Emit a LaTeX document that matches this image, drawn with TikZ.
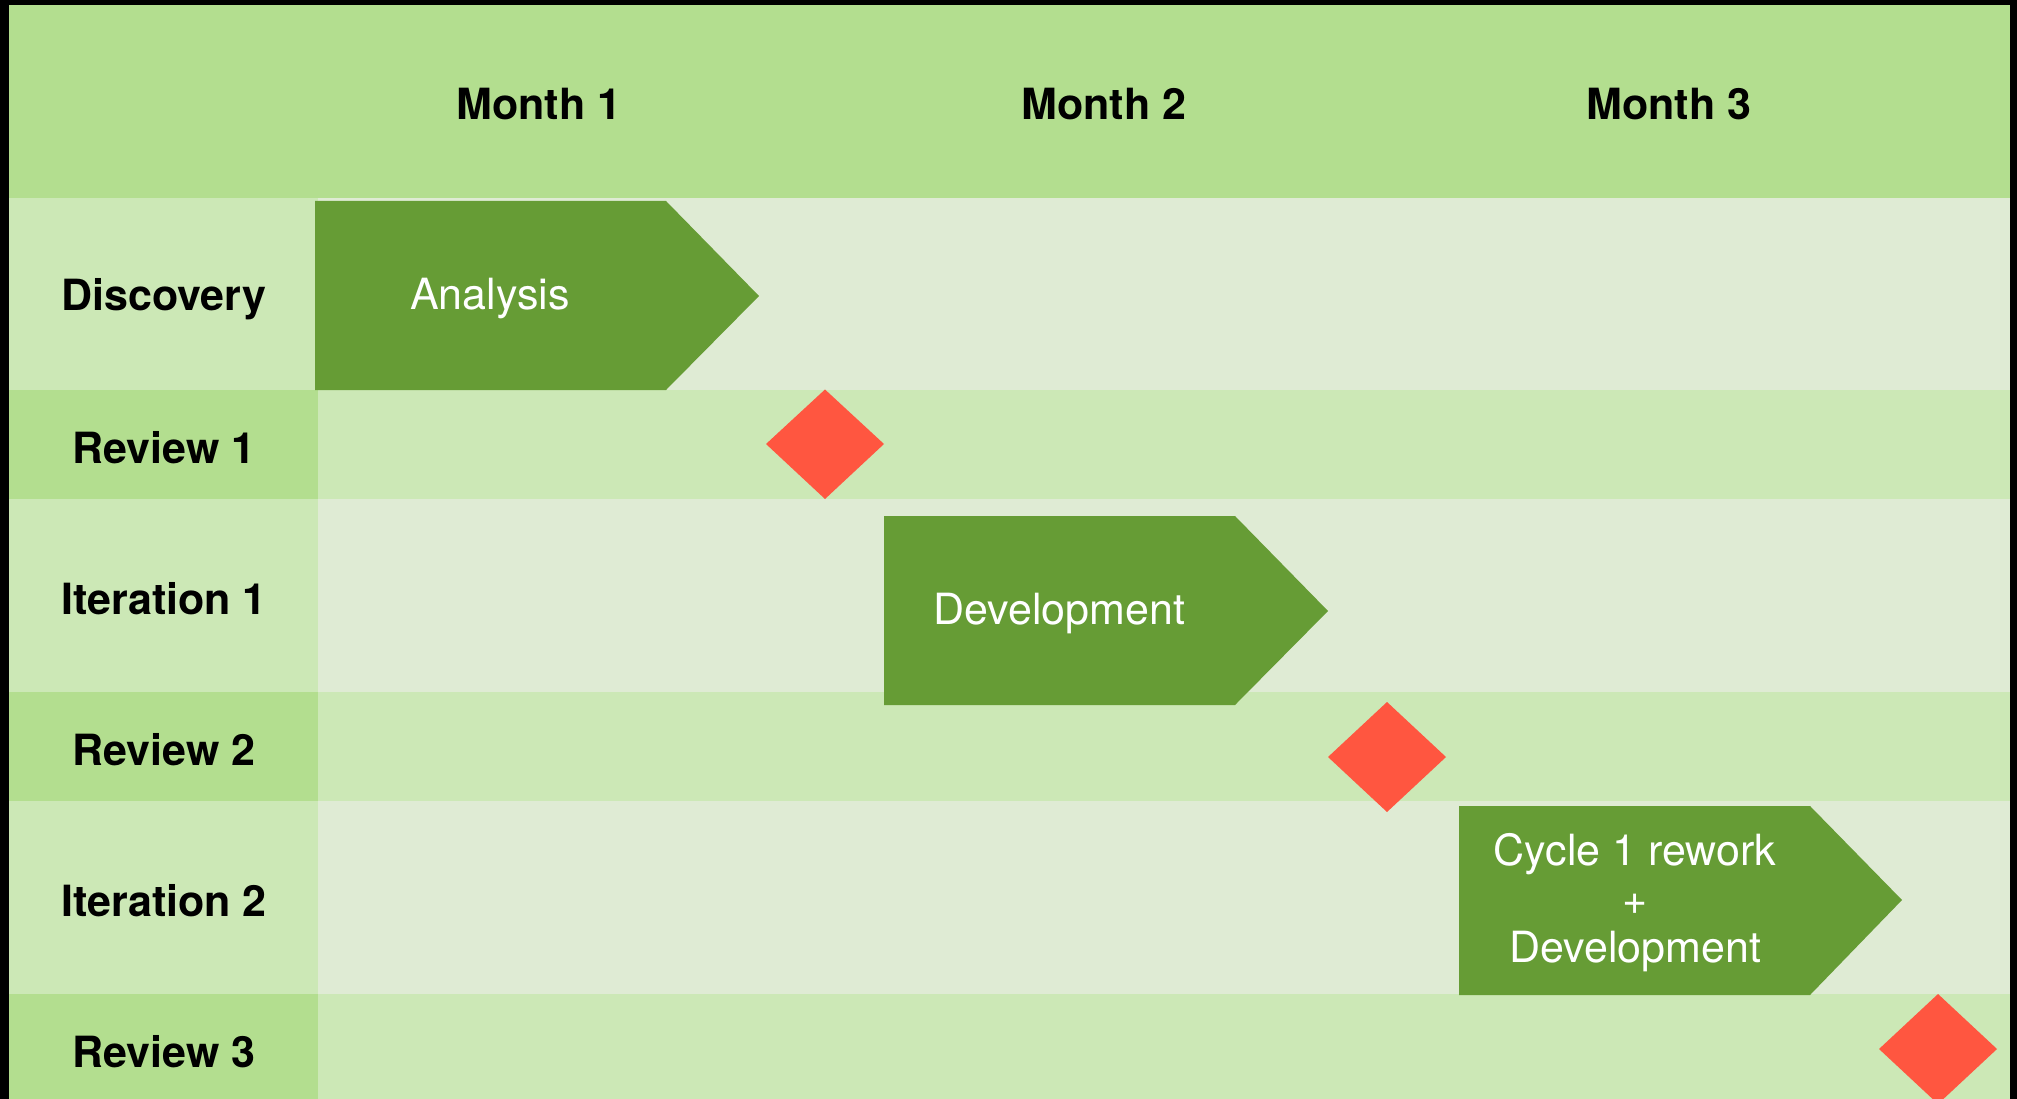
\documentclass[tikz,border=0pt]{standalone}
\usepackage{fontspec}
\setmainfont{TeX Gyre Heros}
\definecolor{hdr}{HTML}{B3DE8F}
\definecolor{mid}{HTML}{CCE8B6}
\definecolor{light}{HTML}{DFEBD4}
\definecolor{bar}{HTML}{669C35}
\definecolor{mile}{HTML}{FF5640}
\tikzset{
  hlabel/.style={font=\fontsize{43}{48}\selectfont\bfseries, text=black, inner sep=0pt, anchor=base},
  rlabel/.style={font=\fontsize{43}{48}\selectfont\bfseries, text=black, inner sep=0pt},
  bartext/.style={font=\fontsize{43}{48.5}\selectfont, text=white, inner sep=0pt, align=center},
  milestone/.style={fill=mile, draw=none},
  chevron/.style={fill=bar, draw=none}
}
\begin{document}
\begin{tikzpicture}[x=1pt,y=-1pt]
\useasboundingbox (0,0) rectangle (2017,1099);
% black frame
\fill[black] (0,0) rectangle (2017,1099);
% header
\fill[hdr] (9,5) rectangle (2010,198);
% rows: label cells
\fill[mid] (9,198) rectangle (318,390);
\fill[hdr] (9,390) rectangle (318,499);
\fill[mid] (9,499) rectangle (318,692);
\fill[hdr] (9,692) rectangle (318,801);
\fill[mid] (9,801) rectangle (318,994);
\fill[hdr] (9,994) rectangle (318,1099);
% rows: content
\fill[light] (318,198) rectangle (2010,390);
\fill[mid]   (318,390) rectangle (2010,499);
\fill[light] (318,499) rectangle (2010,692);
\fill[mid]   (318,692) rectangle (2010,801);
\fill[light] (318,801) rectangle (2010,994);
\fill[mid]   (318,994) rectangle (2010,1099);
% month headers
\node[hlabel] (m1) at (539,120) {Month 1};
\node[hlabel] (m2) at (1104,120) {Month 2};
\node[hlabel] (m3) at (1669,120) {Month 3};
% row labels
\node[rlabel] (r1) at (164,299) {Discovery};
\node[rlabel] (r2) at (164,448) {Review 1};
\node[rlabel] (r3) at (164,599) {Iteration 1};
\node[rlabel] (r4) at (164,750) {Review 2};
\node[rlabel] (r5) at (164,901) {Iteration 2};
\node[rlabel] (r6) at (164,1052) {Review 3};
% chevrons
\fill[chevron] (315,201) -- (666,201) -- (759,296) -- (666,390) -- (315,390) -- cycle;
\fill[chevron] (884,516) -- (1235,516) -- (1328,611) -- (1235,705) -- (884,705) -- cycle;
\fill[chevron] (1459,806) -- (1810,806) -- (1902,900) -- (1810,995) -- (1459,995) -- cycle;
\node[bartext] (t1) at (490,299) {Analysis};
\node[bartext] (t2) at (1059,614) {Development};
\node[bartext] (t3) at (1635,903) {Cycle 1 rework\\+\\Development};
% milestones
\fill[milestone] (766,444) -- (825,389.5) -- (884,444) -- (825,499) -- cycle;
\fill[milestone] (1328,757) -- (1387,702) -- (1446,757) -- (1387,812) -- cycle;
\fill[milestone] (1879,1049) -- (1938,994) -- (1997,1049) -- (1938,1104) -- cycle;
\end{tikzpicture}
\end{document}
